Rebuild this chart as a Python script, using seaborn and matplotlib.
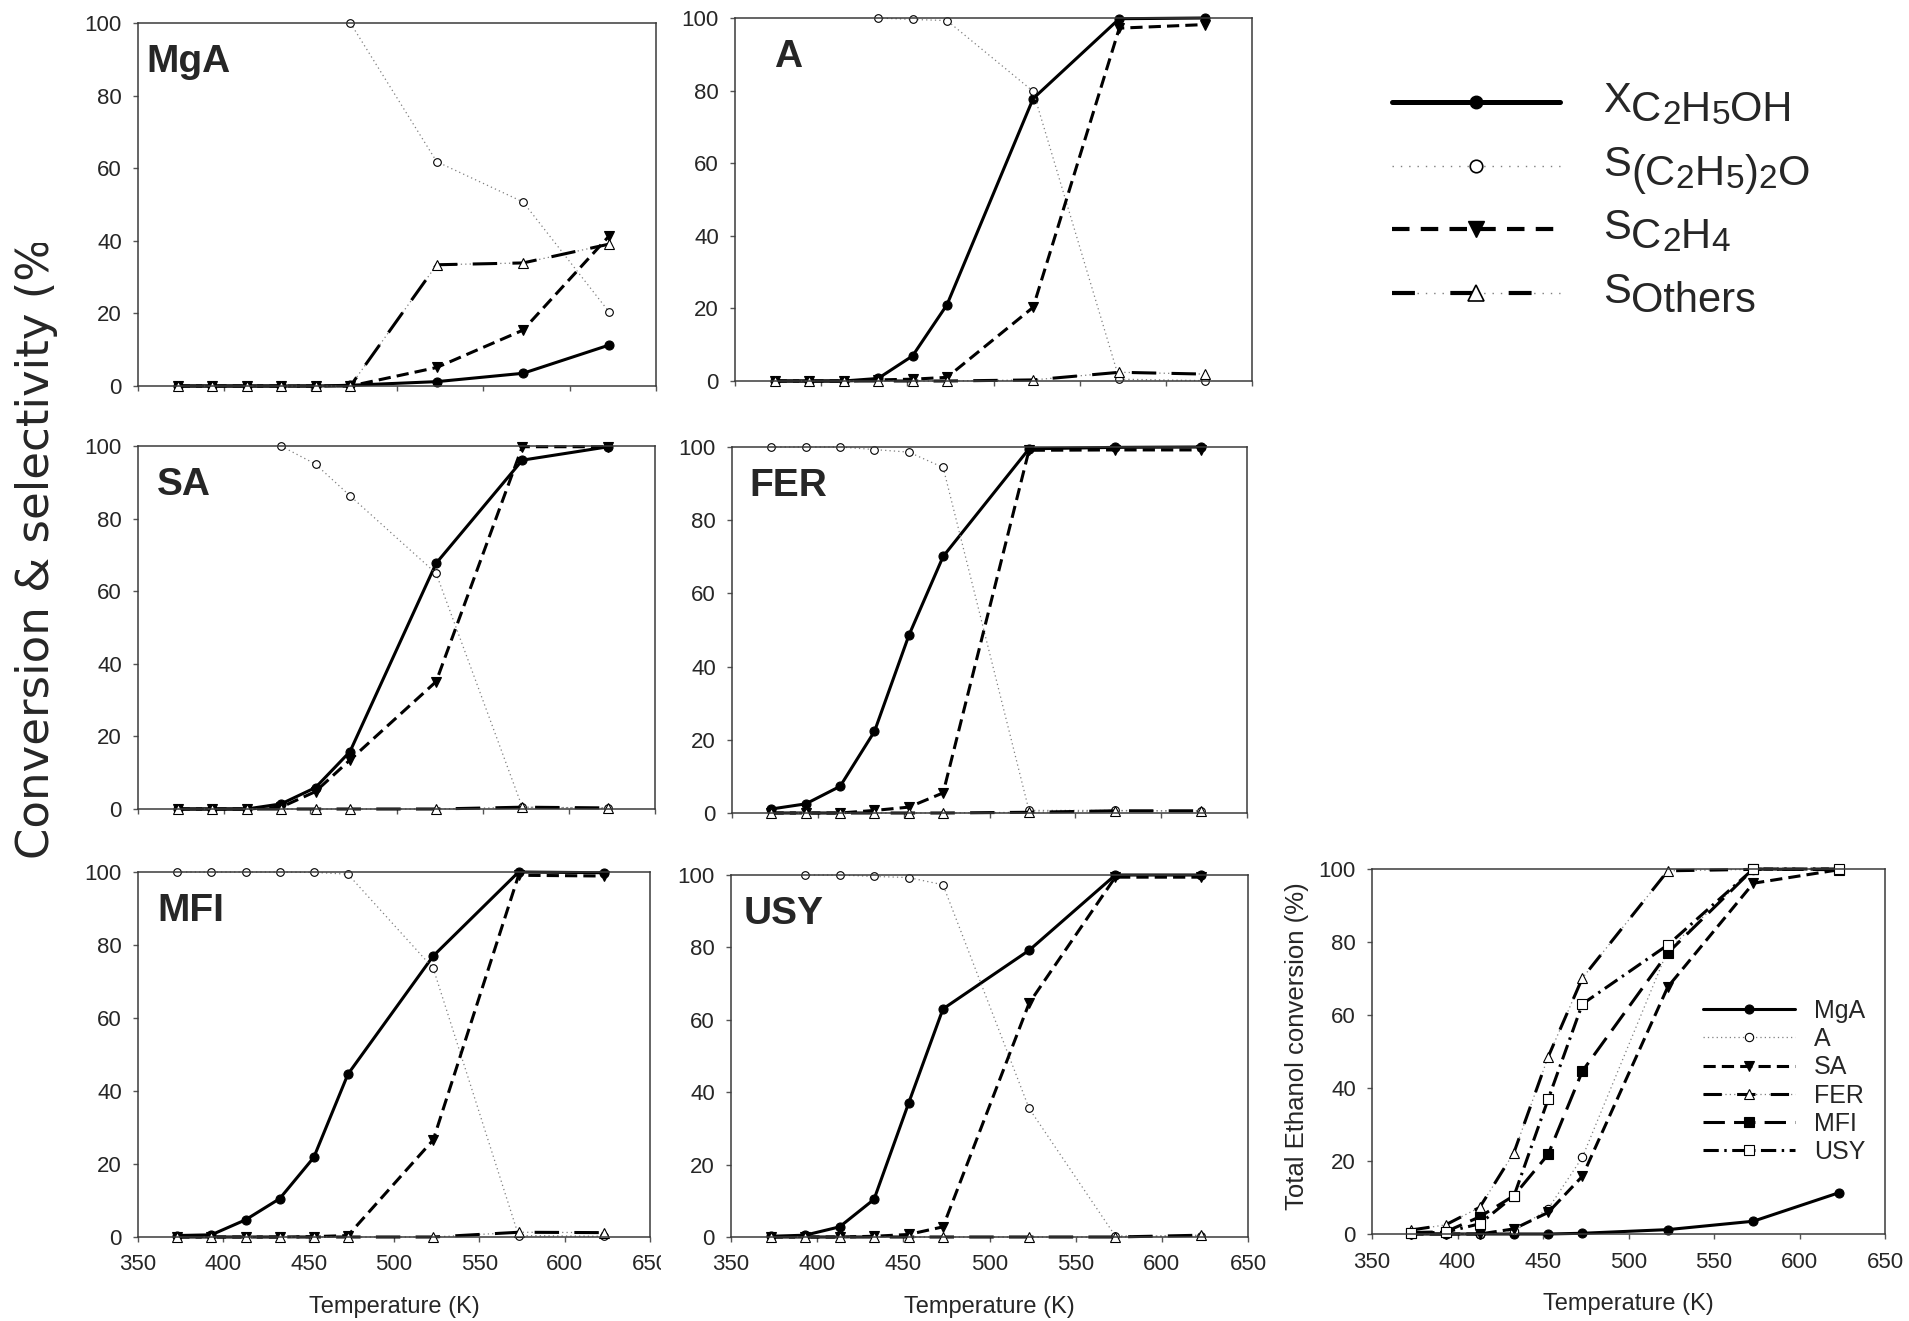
import numpy as np
import matplotlib
matplotlib.use("Agg")
import matplotlib.pyplot as plt
import seaborn as sns
from matplotlib.lines import Line2D
from matplotlib.transforms import Bbox
from matplotlib.legend_handler import HandlerTuple

W, H, DPI = 1909, 1321, 100
nan = np.nan

# ---------------- data ----------------
temperature_K = [373, 393, 413, 433, 453, 473, 523, 573, 623]

mga_conv   = [0.0, 0.0, 0.0, 0.0, 0.0, 0.2, 1.2, 3.5, 11.3]
mga_ether  = [nan, nan, nan, nan, nan, 100.0, 61.8, 50.7, 20.3]
mga_c2h4   = [0.0, 0.0, 0.0, 0.0, 0.0, 0.0, 5.1, 15.4, 41.4]
mga_others = [0.0, 0.0, 0.0, 0.0, 0.0, 0.0, 33.4, 33.9, 39.1]

a_conv   = [0.0, 0.0, 0.0, 0.7, 6.9, 21.0, 77.8, 99.8, 100.0]
a_ether  = [nan, nan, nan, 100.0, 99.6, 99.3, 79.8, 0.5, 0.1]
a_c2h4   = [0.0, 0.0, 0.0, 0.3, 0.5, 1.0, 20.3, 97.2, 98.2]
a_others = [0.0, 0.0, 0.0, 0.0, 0.0, 0.0, 0.3, 2.4, 1.9]

sa_conv   = [0.0, 0.0, 0.0, 1.4, 5.9, 15.8, 67.7, 96.1, 99.8]
sa_ether  = [nan, nan, nan, 100.0, 95.0, 86.3, 64.9, 0.5, 0.2]
sa_c2h4   = [0.0, 0.0, 0.0, 0.5, 4.8, 13.5, 35.1, 99.8, 99.8]
sa_others = [0.0, 0.0, 0.0, 0.0, 0.0, 0.0, 0.0, 0.5, 0.3]

fer_conv   = [1.1, 2.5, 7.3, 22.3, 48.5, 70.1, 99.5, 99.9, 100.0]
fer_ether  = [100.0, 100.0, 100.0, 99.3, 98.6, 94.4, 0.7, 0.7, 0.5]
fer_c2h4   = [0.0, 0.0, 0.0, 0.7, 1.6, 5.5, 99.1, 99.2, 99.2]
fer_others = [0.0, 0.0, 0.0, 0.0, 0.0, 0.0, 0.2, 0.6, 0.6]

mfi_conv   = [0.4, 0.6, 4.7, 10.5, 21.8, 44.6, 77.0, 100.0, 99.8]
mfi_ether  = [100.0, 100.0, 100.0, 100.0, 99.9, 99.4, 73.6, 0.4, 0.2]
mfi_c2h4   = [0.0, 0.0, 0.0, 0.0, 0.1, 0.4, 26.6, 99.1, 98.9]
mfi_others = [0.0, 0.0, 0.0, 0.0, 0.0, 0.0, 0.0, 1.3, 1.2]

usy_conv   = [0.2, 0.5, 2.8, 10.4, 36.9, 63.0, 79.2, 100.0, 100.0]
usy_ether  = [nan, 100.0, 100.0, 99.6, 99.3, 97.3, 35.5, 0.3, 0.2]
usy_c2h4   = [0.0, 0.0, 0.0, 0.2, 0.7, 2.8, 64.6, 99.4, 99.4]
usy_others = [0.0, 0.0, 0.0, 0.0, 0.0, 0.0, 0.0, 0.0, 0.5]

catalysts = ["MgA", "A", "SA", "FER", "MFI", "USY"]
x_ticks = [350, 400, 450, 500, 550, 600, 650]
y_ticks = [0, 20, 40, 60, 80, 100]
x_label = "Temperature (K)"
big_ylabel = "Conversion & selectivity (%)"
total_ylabel = "Total Ethanol conversion (%)"

panel_data = {
    "MgA": (mga_conv, mga_ether, mga_c2h4, mga_others),
    "A": (a_conv, a_ether, a_c2h4, a_others),
    "SA": (sa_conv, sa_ether, sa_c2h4, sa_others),
    "FER": (fer_conv, fer_ether, fer_c2h4, fer_others),
    "MFI": (mfi_conv, mfi_ether, mfi_c2h4, mfi_others),
    "USY": (usy_conv, usy_ether, usy_c2h4, usy_others),
}

# ---------------- layout / style ----------------
panel_box = {  # left, top, right, bottom in output pixels
    "MgA": (138, 23, 656, 386),
    "A": (735, 18, 1252, 381),
    "SA": (138, 446, 655, 809),
    "FER": (732, 447, 1247, 813),
    "MFI": (138, 872, 650, 1237),
    "USY": (731, 875, 1248, 1237),
}
total_box = (1372, 869, 1885, 1234)
label_dx = {"MgA": 0.017, "A": 0.075, "SA": 0.037, "FER": 0.033, "MFI": 0.037, "USY": 0.025}

sns.set_style("ticks")
plt.rcParams["font.family"] = ["Liberation Sans", "DejaVu Sans"]
plt.rcParams["font.size"] = 16
plt.rcParams["axes.linewidth"] = 1.1
plt.rcParams["axes.edgecolor"] = "#3a3a3a"

fig = plt.figure(figsize=(W / DPI, H / DPI), dpi=DPI)
fig.patch.set_facecolor("white")

GRAY = "#7f7f7f"
TUPLE_HANDLER = {tuple: HandlerTuple(ndivide=1, pad=0.0)}


def box_axes(box):
    L, T, R, B = box
    return fig.add_axes([L / W, 1 - B / H, (R - L) / W, (B - T) / H])


def sline(ax, y, **kw):
    sns.lineplot(x=temperature_K, y=y, ax=ax, estimator=None, errorbar=None,
                 sort=False, clip_on=False, **kw)
    return ax.lines[-1]


def draw_kind(ax, y, kind):
    if kind == "conv":
        return sline(ax, y, color="black", linewidth=2.2, linestyle="-", marker="o",
                     markersize=6.5, markerfacecolor="black", markeredgecolor="black",
                     markeredgewidth=0.8)
    if kind == "ether":
        return sline(ax, y, color=GRAY, linewidth=0.9, linestyle=(0, (1, 2.5)), marker="o",
                     markersize=5.5, markerfacecolor="white", markeredgecolor="black",
                     markeredgewidth=0.8)
    if kind == "c2h4":
        return sline(ax, y, color="black", linewidth=2.2, linestyle=(0, (4, 2)), marker="v",
                     markersize=7, markerfacecolor="black", markeredgecolor="black",
                     markeredgewidth=0.8)
    if kind == "others":
        base = sline(ax, y, color=GRAY, linewidth=0.9, linestyle=(0, (1, 2.5)))
        top = sline(ax, y, color="black", linewidth=2.2, linestyle=(0, (8, 5)), marker="^",
                    markersize=7, markerfacecolor="white", markeredgecolor="black",
                    markeredgewidth=0.8)
        return (base, top)


def style_axes(ax, show_xlabels):
    ax.set_xlim(350, 650)
    ax.set_ylim(0, 100)
    ax.set_xticks(x_ticks)
    ax.set_yticks(y_ticks)
    ax.tick_params(axis="both", direction="out", length=3.6, width=1.0, color="#555555",
                   labelsize=16)
    ax.tick_params(axis="y", pad=8)
    ax.tick_params(axis="x", pad=9, labelbottom=show_xlabels)
    for s in ax.spines.values():
        s.set_visible(True)
        s.set_color("#3a3a3a")
        s.set_linewidth(1.1)


axes = {}
for cat in catalysts:
    ax = box_axes(panel_box[cat])
    axes[cat] = ax
    conv, ether, c2h4, others = panel_data[cat]
    draw_kind(ax, conv, "conv")
    draw_kind(ax, ether, "ether")
    draw_kind(ax, c2h4, "c2h4")
    draw_kind(ax, others, "others")
    bottom = cat in ("MFI", "USY")
    style_axes(ax, bottom)
    ax.set_ylabel("")
    if bottom:
        ax.set_xlabel(x_label, fontsize=17, labelpad=15)
    else:
        ax.set_xlabel("")
    ax.text(label_dx[cat], 0.865, cat, transform=ax.transAxes, fontsize=28,
            fontweight="bold", ha="left", va="baseline")

# clip the "650" of the MFI panel as in the original
mfi_last = axes["MFI"].xaxis.get_major_ticks()[-1].label1
mfi_last.set_clip_on(True)
mfi_last.set_clip_box(Bbox.from_extents(0, 0, 661, H))

# ---------------- total conversion panel ----------------
axt = box_axes(total_box)
tot_handles = []
tot_handles.append(sline(axt, mga_conv, color="black", linewidth=2.2, linestyle="-", marker="o",
                         markersize=6.5, markerfacecolor="black", markeredgecolor="black",
                         markeredgewidth=0.8))
tot_handles.append(sline(axt, a_conv, color=GRAY, linewidth=0.9, linestyle=(0, (1, 2.5)),
                         marker="o", markersize=6, markerfacecolor="white",
                         markeredgecolor="black", markeredgewidth=0.8))
tot_handles.append(sline(axt, sa_conv, color="black", linewidth=2.2, linestyle=(0, (4, 2)),
                         marker="v", markersize=7, markerfacecolor="black",
                         markeredgecolor="black", markeredgewidth=0.8))
fer_base = sline(axt, fer_conv, color=GRAY, linewidth=0.9, linestyle=(0, (1, 2.5)))
fer_top = sline(axt, fer_conv, color="black", linewidth=2.2, linestyle=(0, (6, 5)), marker="^",
                markersize=7.5, markerfacecolor="white", markeredgecolor="black",
                markeredgewidth=0.8)
tot_handles.append((fer_base, fer_top))
tot_handles.append(sline(axt, mfi_conv, color="black", linewidth=2.2, linestyle=(0, (7, 3)),
                         marker="s", markersize=6.5, markerfacecolor="black",
                         markeredgecolor="black", markeredgewidth=0.8))
tot_handles.append(sline(axt, usy_conv, color="black", linewidth=2.2,
                         linestyle=(0, (5, 1.8, 0.8, 1.8)), marker="s", markersize=7,
                         markerfacecolor="white", markeredgecolor="black",
                         markeredgewidth=0.8))
style_axes(axt, True)
axt.set_xlabel(x_label, fontsize=17, labelpad=15)
axt.set_ylabel(total_ylabel, fontsize=18.5, labelpad=7, y=0.515)
axt.legend(tot_handles, catalysts, loc="upper left", bbox_to_anchor=(0.645, 0.644),
           frameon=False, fontsize=18, handlelength=3.7, handletextpad=0.75,
           labelspacing=0.17, borderpad=0, borderaxespad=0,
           handler_map=TUPLE_HANDLER)

# ---------------- big shared y label ----------------
yl = fig.text(49 / W, 1 - 859 / H, big_ylabel, rotation=90, rotation_mode="anchor",
              ha="left", va="baseline", fontsize=32.4, family="DejaVu Sans", clip_on=True)
yl.set_clip_box(Bbox.from_extents(0, 0, W, H - 243))

# ---------------- species legend (top right) ----------------
leg_handles = [
    Line2D([], [], color="black", linewidth=3.6, linestyle="-", marker="o", markersize=9,
           markerfacecolor="black", markeredgecolor="black"),
    Line2D([], [], color=GRAY, linewidth=1.0, linestyle=(0, (1, 5)), marker="o", markersize=9,
           markerfacecolor="white", markeredgecolor="black", markeredgewidth=1.2),
    Line2D([], [], color="black", linewidth=3.0, linestyle=(0, (4.2, 2.7)), marker="v",
           markersize=11, markerfacecolor="black", markeredgecolor="black"),
    (Line2D([], [], color=GRAY, linewidth=1.0, linestyle=(0, (1, 5))),
     Line2D([], [], color="black", linewidth=3.0, linestyle=(0, (5.5, 8.5)), marker="^",
            markersize=11, markerfacecolor="white", markeredgecolor="black",
            markeredgewidth=1.2)),
]
leg = fig.legend(leg_handles, [" "] * 4, loc="upper left", bbox_to_anchor=(1392 / W, 1 - 86 / H),
                 frameon=False, fontsize=29, handlelength=4.17, labelspacing=0.64,
                 borderpad=0, borderaxespad=0, handletextpad=0.5,
                 handler_map=TUPLE_HANDLER)

legend_labels = [
    [("X", 30, 10), ("C", 30, 19), ("2", 24, 22), ("H", 30, 19), ("5", 24, 22), ("OH", 30, 19)],
    [("S", 30, 10), ("(C", 30, 19), ("2", 24, 22), ("H", 30, 19), ("5", 24, 22), (")", 30, 19),
     ("2", 24, 22), ("O", 30, 19)],
    [("S", 30, 10), ("C", 30, 19), ("2", 24, 22), ("H", 30, 19), ("4", 24, 22)],
    [("S", 30, 10), ("Others", 30, 19)],
]

fig.canvas.draw()
renderer = fig.canvas.get_renderer()
for line, segs in zip(leg.get_lines(), legend_labels):
    bb = line.get_window_extent(renderer)
    yc_top = H - (bb.y0 + bb.y1) / 2.0
    x = 1603.0
    for s, size, dy in segs:
        t = fig.text(x / W, 1 - (yc_top + dy) / H, s, fontsize=size, ha="left",
                     va="baseline", family="Liberation Sans")
        x += t.get_window_extent(renderer).width + 0.5

fig.savefig("out.png", dpi=DPI, facecolor="white")
